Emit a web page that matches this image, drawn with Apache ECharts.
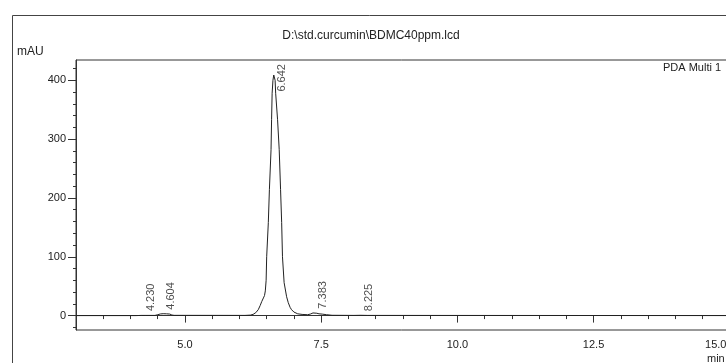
<!DOCTYPE html>
<html>
<head>
<meta charset="utf-8">
<script src="https://cdn.jsdelivr.net/npm/echarts@6/dist/echarts.min.js"></script>
<style>
  html, body { margin: 0; padding: 0; background: #fff; }
  #chart { width: 726px; height: 363px; }
</style>
</head>
<body>
<div id="chart"></div>
<script>
// chromatogram trace (min, mAU)
const times = [3.00, 4.10, 4.20, 4.23, 4.27, 4.45, 4.50, 4.55, 4.60, 4.66, 4.72, 4.76, 4.80,
  6.10, 6.20, 6.25, 6.30, 6.345, 6.38, 6.41, 6.44, 6.46, 6.475, 6.49, 6.50, 6.53, 6.55, 6.58,
  6.59, 6.60, 6.615, 6.63, 6.642, 6.655, 6.665, 6.70, 6.73, 6.755, 6.775, 6.79, 6.82, 6.866,
  6.896, 6.93, 6.957, 7.00, 7.07, 7.15, 7.25, 7.30, 7.35, 7.383, 7.42, 7.46, 7.52, 7.60, 7.70,
  8.10, 8.225, 8.35, 15.5];
const absorb = [0, 0, 0.3, 0.8, 0.3, 0.3, 1.5, 2.8, 3.2, 3.0, 2.6, 1.0, 0.4,
  0.3, 0.8, 2, 5, 10, 17, 24, 30, 34, 42, 60, 100, 158, 214, 282,
  333, 378, 400, 409, 412, 400, 378, 333, 282, 214, 158, 100, 56, 32,
  22, 14, 10, 6, 3, 2, 1.5, 2.5, 4.5, 5, 4, 3, 2.5, 1.5, 0.5,
  0.3, 0.5, 0.3, 0];

// peak table
const peakTimes = [4.230, 4.604, 6.642, 7.383, 8.225];
const peakHeights = [0.8, 3.2, 412, 5, 0.5];

// axis ticks and labels
const xLabels = [5.0, 7.5, 10.0, 12.5, 15.0];
const yLabels = [0, 100, 200, 300, 400];
const xMinorTicks = [];
for (let t = 3.5; t <= 15.0; t += 0.5) xMinorTicks.push(+t.toFixed(1));
const yMinorTicks = [];
for (let v = -20; v <= 420; v += 20) yMinorTicks.push(v);

const LABEL_CAP = 374; // tall peak labels are pushed down to stay inside the frame

const myChart = echarts.init(document.getElementById("chart"), null, { renderer: "canvas" });

const FONT = "Liberation Sans, Arial, sans-serif";
const INK = "#222";

const baseX = {
  type: "value",
  min: 3,
  max: 15.5,
  position: "bottom",
  splitLine: { show: false }
};
const baseY = {
  type: "value",
  min: -24.5,
  max: 434.5,
  position: "left",
  splitLine: { show: false }
};

myChart.setOption({
  animation: false,
  backgroundColor: "#fff",
  grid: {
    left: 76,
    top: 60,
    height: 270,
    width: 681,
    outerBoundsMode: "none",
    containLabel: false,
    show: true,
    borderColor: "#333",
    borderWidth: 1
  },
  xAxis: [
    Object.assign({}, baseX, {
      axisLine: { lineStyle: { color: "#333", width: 1 } },
      axisTick: { length: 7, lineStyle: { color: "#333" }, customValues: xLabels },
      axisLabel: {
        customValues: xLabels,
        margin: 9,
        color: INK,
        fontFamily: FONT,
        fontSize: 11,
        formatter: function (v) {
          return v === 15 ? "{last|15.0}" : v.toFixed(1);
        },
        rich: { last: { padding: [0, 28, 0, 0], color: INK, fontFamily: FONT, fontSize: 11 } }
      }
    }),
    Object.assign({}, baseX, {
      axisLine: { show: false },
      axisTick: { length: 3.5, lineStyle: { color: "#333" }, customValues: xMinorTicks },
      axisLabel: { show: false }
    })
  ],
  yAxis: [
    Object.assign({}, baseY, {
      axisLine: { show: true, lineStyle: { color: "#333", width: 1 } },
      axisTick: { show: true, length: 8, lineStyle: { color: "#333" }, customValues: yLabels },
      axisLabel: {
        customValues: yLabels,
        margin: 10,
        color: INK,
        fontFamily: FONT,
        fontSize: 11
      }
    }),
    Object.assign({}, baseY, {
      axisLine: { show: false },
      axisTick: { show: true, length: 3, lineStyle: { color: "#333" }, customValues: yMinorTicks },
      axisLabel: { show: false }
    })
  ],
  series: [
    {
      name: "PDA Multi 1",
      type: "line",
      xAxisIndex: 0,
      yAxisIndex: 0,
      showSymbol: false,
      data: times.map((t, i) => [t, absorb[i]]),
      lineStyle: { color: INK, width: 1 }
    },
    {
      // retention time labels
      type: "scatter",
      xAxisIndex: 0,
      yAxisIndex: 0,
      symbolSize: 0,
      silent: true,
      data: peakTimes.map((t, i) => [t, Math.min(peakHeights[i], LABEL_CAP)]),
      label: {
        show: true,
        position: [8, -4],
        rotate: 90,
        align: "left",
        verticalAlign: "middle",
        color: INK,
        fontFamily: FONT,
        fontSize: 11,
        formatter: (p) => p.value[0].toFixed(3)
      }
    }
  ],
  graphic: [
    {
      type: "rect",
      left: 10,
      top: 13,
      shape: { width: 800, height: 400 },
      style: { fill: "none", stroke: "#444", lineWidth: 1 },
      silent: true
    },
    {
      type: "text",
      x: 371,
      y: 36,
      style: {
        text: "D:\\std.curcumin\\BDMC40ppm.lcd",
        textAlign: "center",
        textVerticalAlign: "middle",
        fill: INK,
        font: "12px " + FONT
      }
    },
    {
      type: "text",
      x: 17,
      y: 52,
      style: { text: "mAU", textVerticalAlign: "middle", fill: INK, font: "12px " + FONT }
    },
    {
      type: "text",
      x: 663,
      y: 68,
      style: { text: "PDA Multi 1", textVerticalAlign: "middle", fill: INK, font: "11px " + FONT }
    },
    {
      type: "text",
      x: 707,
      y: 359,
      style: { text: "min", textVerticalAlign: "middle", fill: INK, font: "11px " + FONT }
    }
  ]
});
</script>
</body>
</html>
